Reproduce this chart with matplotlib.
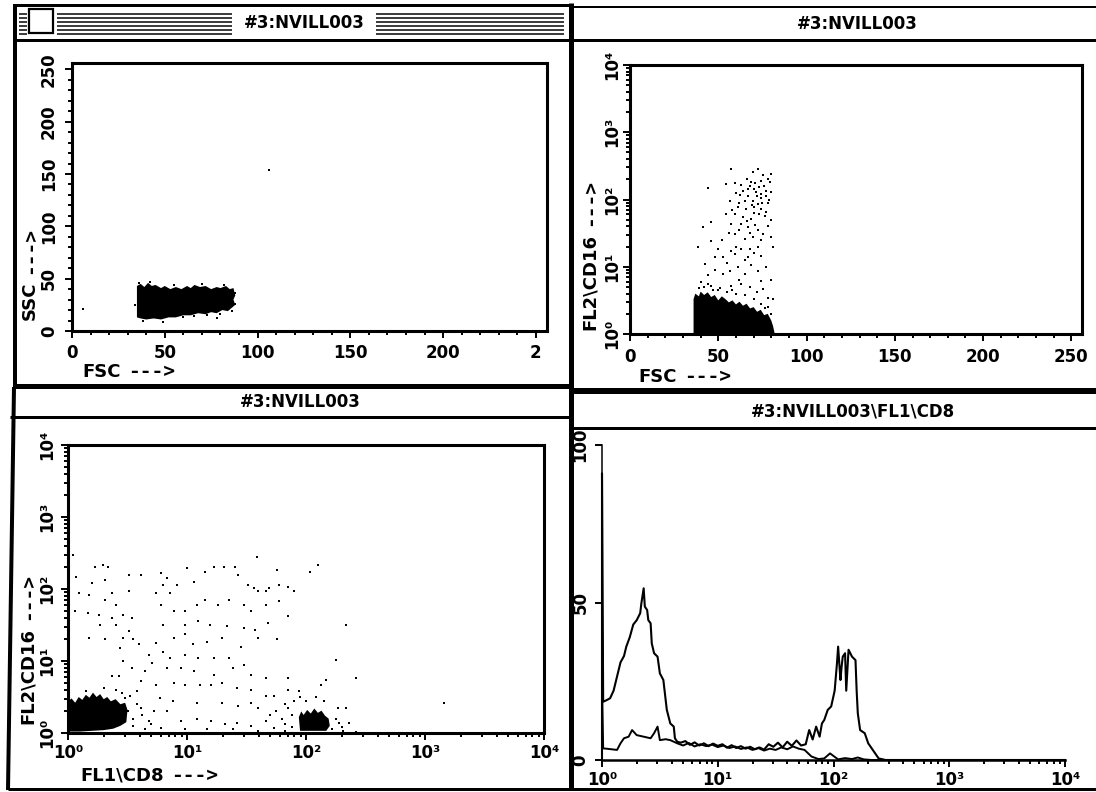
import numpy as np
import matplotlib
matplotlib.use('Agg')
import matplotlib.pyplot as plt
from matplotlib.patches import Rectangle
from matplotlib.ticker import FixedLocator, FixedFormatter, MultipleLocator, LogLocator, NullFormatter

plt.rcParams['font.family'] = ['DejaVu Sans']
plt.rcParams['font.weight'] = 'bold'
plt.rcParams['font.size'] = 12

W, H = 1096, 792

# ---------------- FSC / SSC ----------------
# dense lymphocyte gate outline (FSC, SSC)
gate_fsc = [35, 35, 37, 39, 41, 43, 45, 48, 50, 53, 56, 59, 62, 64, 66, 69, 72, 75, 78, 80,
            83, 85, 87, 88, 87, 88, 86, 84, 81, 78, 75, 72, 68, 64, 60, 56, 52, 48, 44, 40, 37]
gate_ssc = [13, 43, 45, 42, 46, 43, 44, 41, 43, 40, 42, 40, 43, 41, 44, 42, 43, 40, 42, 41,
            43, 40, 41, 34, 30, 25, 22, 19, 20, 17, 18, 16, 17, 15, 15, 13, 13, 11, 12, 11, 12]
# loose events around it
loose_fsc = [36, 42, 55, 70, 82, 88, 88, 86, 80, 73, 66, 60, 49, 38, 34, 78, 6, 106]
loose_ssc = [46, 47, 44, 45, 44, 36, 26, 19, 16, 15, 14, 13, 9, 10, 25, 12, 21, 154]

# ---------------- FSC / FL2 (log decades) ----------------
fsc_core = [36, 36, 37, 39, 40, 42, 44, 46, 48, 50, 52, 54, 56, 58, 60, 62, 64, 66, 68, 70,
            72, 74, 76, 78, 80, 81, 82]
fl2_core = [0.0, 0.52, 0.60, 0.56, 0.63, 0.58, 0.62, 0.55, 0.58, 0.50, 0.56, 0.52, 0.47, 0.50,
            0.44, 0.48, 0.42, 0.45, 0.38, 0.40, 0.33, 0.36, 0.28, 0.30, 0.20, 0.12, 0.0]
fsc_nk = [57.0, 69.7, 72.5, 75.4, 80.1, 44.1, 54.5, 59.3, 63.1, 68.8,
          74.4, 79.2, 66.9, 71.6, 74.4, 77.3, 80.1, 62.1, 56.4, 65.0,
          69.7, 72.5, 78.2, 61.2, 65.9, 70.3, 74.4, 54.5, 59.3, 64.0,
          68.8, 76.3, 80.1, 57.4, 63.1, 66.9, 72.5, 41.3, 46.0, 59.3,
          65.0, 69.7, 75.4, 80.1, 38.5, 46.0, 49.7, 57.4, 63.1, 67.8,
          72.5, 81.0, 52.6, 59.3, 66.9, 74.4, 42.2, 47.9, 56.4, 61.2,
          68.8, 77.3, 44.1, 52.6, 65.0, 72.5, 74.4, 40.3, 50.7, 57.4,
          63.1, 75.4, 78.2, 81.0, 76.3,
          66, 68, 70, 71, 73, 74, 76, 77, 78, 79,
          72, 69, 67, 75, 77, 73, 70, 62, 64, 60,
          58, 66, 71, 78, 62, 68, 74, 56, 52, 60,
          70, 65, 55, 48, 62, 68, 72, 58, 46, 80,
          39, 44, 50, 55, 60, 65, 70, 74, 78, 80, 42, 47]
fl2_nk = [2.46, 2.41, 2.46, 2.36, 2.38, 2.17, 2.23, 2.24, 2.22, 2.26,
          2.28, 2.26, 2.16, 2.11, 2.08, 2.13, 2.11, 2.06, 1.98, 1.98,
          1.98, 1.94, 1.95, 1.89, 1.86, 1.89, 1.86, 1.79, 1.79, 1.74,
          1.71, 1.76, 1.69, 1.64, 1.64, 1.59, 1.54, 1.59, 1.66, 1.49,
          1.42, 1.44, 1.49, 1.44, 1.29, 1.39, 1.27, 1.24, 1.27, 1.27,
          1.29, 1.29, 1.14, 1.19, 1.14, 1.16, 1.04, 1.14, 0.94, 0.99,
          1.02, 0.99, 0.87, 0.89, 0.89, 0.94, 0.79, 0.77, 0.69, 0.72,
          0.74, 0.67, 0.54, 0.52, 0.39,
          2.30, 2.20, 2.15, 2.25, 2.18, 2.02, 2.20, 2.05, 2.30, 2.00,
          2.05, 1.92, 2.05, 1.95, 1.82, 1.78, 1.80, 1.95, 2.12, 2.10,
          1.85, 1.68, 1.62, 1.60, 1.55, 1.50, 1.40, 1.50, 1.40, 1.30,
          1.20, 1.10, 1.05, 0.95, 0.80, 0.70, 0.62, 0.65, 0.72, 0.80,
          0.68, 0.75, 0.66, 0.62, 0.60, 0.58, 0.52, 0.45, 0.40, 0.30, 0.70, 0.65]

# ---------------- FL1 / FL2 (log decades) ----------------
neg_fl1 = [0.0, 0.0, 0.03, 0.06, 0.09, 0.12, 0.15, 0.18, 0.21, 0.24, 0.27, 0.30,
           0.33, 0.36, 0.40, 0.44, 0.48, 0.50, 0.49, 0.44, 0.38, 0.30, 0.20, 0.10]
neg_fl2 = [0.02, 0.44, 0.48, 0.42, 0.50, 0.46, 0.53, 0.49, 0.56, 0.50, 0.54, 0.47,
           0.50, 0.44, 0.47, 0.40, 0.42, 0.32, 0.15, 0.10, 0.06, 0.04, 0.03, 0.02]
pos_fl1 = [1.95, 1.94, 1.96, 1.98, 2.01, 2.04, 2.07, 2.10, 2.13, 2.16, 2.19, 2.20, 2.17, 2.08]
pos_fl2 = [0.03, 0.22, 0.30, 0.25, 0.32, 0.27, 0.34, 0.28, 0.31, 0.24, 0.20, 0.10, 0.03, 0.03]
ev_fl1 = [0.04, 0.23, 0.29, 0.34, 0.07, 0.20, 0.31, 0.09, 0.18, 0.37,
          0.51, 0.31, 0.40, 0.06, 0.17, 0.26, 0.37, 0.46, 0.54, 0.27,
          0.40, 0.51, 0.18, 0.31, 0.46, 0.55, 0.44, 0.60, 0.68, 0.74,
          0.51, 0.61, 0.78, 0.83, 0.80, 0.74, 0.86, 0.92, 1.00, 1.06,
          1.15, 1.23, 1.31, 1.40, 1.43, 1.51, 1.56, 1.60, 1.66, 1.69,
          1.77, 1.85, 1.90, 1.59, 1.76, 2.03, 2.10, 0.78, 0.89, 0.98,
          1.08, 1.15, 1.26, 1.35, 1.48, 1.54, 1.66, 1.77, 1.85, 0.80,
          0.98, 1.09, 1.19, 1.34, 1.48, 1.57, 1.68, 1.76, 2.34, 0.89,
          0.98, 1.05, 1.17, 1.29, 1.45, 1.60, 0.80, 0.86, 0.98, 1.09,
          1.23, 1.35, 1.48, 0.46, 0.54, 0.65, 0.71, 0.83, 0.95, 1.06,
          1.23, 1.39, 1.54, 1.66, 1.85, 2.25, 2.42, 2.17, 0.37, 0.43,
          0.61, 0.74, 0.89, 0.98, 1.11, 1.20, 1.29, 1.42, 1.54, 1.66,
          1.73, 1.85, 1.94, 2.13, 0.77, 0.88, 1.08, 1.29, 1.43, 1.54,
          1.60, 1.82, 2.34, 3.16, 0.83, 0.95, 1.08, 1.20, 1.32, 1.42,
          1.54, 1.66, 1.73, 1.82, 2.28, 2.36, 0.78, 0.98, 1.17, 1.39,
          1.60, 1.82, 2.31, 2.42, 0.61, 0.68, 0.55, 0.52, 0.58,
          0.50, 0.55, 0.62, 0.65, 0.70, 0.72, 0.45, 0.40, 0.30, 0.15, 0.58, 0.48,
          1.88, 1.90, 1.95, 2.00, 2.08, 2.15, 2.25, 2.27, 1.80, 1.85,
          1.75, 1.70, 2.30, 2.22, 1.88]
ev_fl2 = [2.47, 2.31, 2.33, 2.31, 2.17, 2.08, 2.13, 1.94, 1.92, 1.94,
          1.97, 1.85, 1.78, 1.69, 1.67, 1.64, 1.60, 1.64, 1.60, 1.50,
          1.50, 1.41, 1.32, 1.30, 1.32, 1.30, 1.18, 1.23, 1.09, 1.25,
          2.20, 2.20, 2.22, 2.15, 2.06, 1.94, 1.94, 2.06, 2.29, 2.10,
          2.24, 2.31, 2.31, 2.31, 2.20, 2.06, 2.01, 1.97, 1.97, 2.01,
          2.06, 2.03, 1.97, 2.45, 2.27, 2.24, 2.33, 1.78, 1.69, 1.69,
          1.78, 1.85, 1.78, 1.85, 1.78, 1.69, 1.78, 1.83, 1.62, 1.50,
          1.50, 1.55, 1.50, 1.48, 1.46, 1.43, 1.53, 1.30, 1.50, 1.32,
          1.37, 1.23, 1.27, 1.32, 1.20, 1.32, 1.13, 1.04, 1.09, 1.04,
          1.04, 1.04, 0.95, 1.00, 0.90, 0.86, 0.97, 0.90, 0.90, 0.86,
          0.81, 0.90, 0.81, 0.77, 0.77, 1.02, 0.77, 0.74, 0.79, 0.79,
          0.72, 0.67, 0.70, 0.67, 0.67, 0.67, 0.70, 0.63, 0.60, 0.51,
          0.51, 0.60, 0.58, 0.67, 0.49, 0.44, 0.42, 0.42, 0.37, 0.42,
          0.35, 0.40, 0.35, 0.42, 0.30, 0.17, 0.19, 0.17, 0.12, 0.14,
          0.10, 0.17, 0.07, 0.12, 0.14, 0.14, 0.07, 0.05, 0.05, 0.05,
          0.03, 0.03, 0.03, 0.01, 0.35, 0.17, 0.19, 0.51, 0.58,
          0.30, 0.10, 0.25, 0.05, 0.12, 0.30, 0.55, 0.60, 0.62, 0.58, 0.40, 0.48,
          0.25, 0.45, 0.50, 0.45, 0.50, 0.45, 0.20, 0.35, 0.20, 0.35,
          0.30, 0.25, 0.08, 0.05, 0.08]

# ---------------- FL1\CD8 histograms (log decades, counts) ----------------
cd8_log = [0.00, 0.00, 0.01, 0.04, 0.07, 0.10, 0.13, 0.16, 0.19, 0.21,
           0.24, 0.27, 0.30, 0.33, 0.34, 0.36, 0.37, 0.39, 0.40, 0.42,
           0.43, 0.45, 0.48, 0.50, 0.53, 0.56, 0.59, 0.62, 0.63, 0.65,
           0.68, 0.72, 0.76, 0.80, 0.84, 0.88, 0.92, 0.96, 1.00, 1.04,
           1.08, 1.12, 1.16, 1.20, 1.24, 1.28, 1.32, 1.36, 1.40, 1.44,
           1.48, 1.52, 1.56, 1.60, 1.64, 1.68, 1.72, 1.76, 1.79, 1.82,
           1.85, 1.88, 1.90, 1.92, 1.95, 1.98, 2.01, 2.03, 2.04, 2.06,
           2.07, 2.08, 2.10, 2.11, 2.13, 2.16, 2.19, 2.20, 2.21, 2.23,
           2.27, 2.30, 2.33, 2.36, 2.39, 2.45, 4.00]
cd8_count = [0, 91, 18.5, 19.0, 19.6, 22, 26.5, 31, 33, 36,
             39, 43, 44.4, 46.6, 49.7, 54.5, 48.7, 47.6, 44.4, 43.4,
             37, 33.9, 32.8, 27.5, 25.4, 15.9, 11.6, 10.6, 6.9, 5.8,
             5.5, 6.0, 4.8, 5.6, 4.6, 5.3, 4.4, 5.2, 4.5, 5.0,
             3.9, 4.7, 3.8, 4.4, 3.6, 4.2, 3.4, 4.0, 3.3, 5.0,
             4.2, 5.5, 4.0, 5.8, 4.5, 6.2, 4.6, 5.0, 9.5, 6.5,
             10.6, 7.4, 11.6, 12.7, 15.9, 17, 22, 30.7, 36, 25.4,
             29.6, 32.8, 33.9, 22, 35, 32.8, 31.7, 22, 14.8, 9.5,
             8.5, 5.3, 3.7, 2.1, 0.5, 0, 0]
ctrl_log = [0.00, 0.00, 0.01, 0.06, 0.13, 0.16, 0.19, 0.23, 0.26, 0.30,
            0.36, 0.42, 0.45, 0.48, 0.50, 0.55, 0.59, 0.65, 0.70, 0.75,
            0.80, 0.85, 0.90, 0.95, 1.00, 1.05, 1.10, 1.15, 1.20, 1.25,
            1.30, 1.35, 1.40, 1.45, 1.50, 1.55, 1.60, 1.65, 1.70, 1.75,
            1.81, 1.87, 1.92, 1.97, 2.01, 2.04, 2.10, 2.16, 2.21, 2.26,
            2.33, 4.00]
ctrl_count = [0, 25, 3.7, 3.5, 3.2, 5.3, 6.9, 7.4, 9.5, 7.9,
              7.4, 6.9, 8.5, 10.6, 6.3, 6.6, 6.3, 5.3, 4.6, 5.4,
              4.3, 5.0, 4.4, 4.9, 4.1, 4.6, 3.8, 4.3, 3.5, 4.0,
              3.2, 3.8, 3.0, 3.6, 3.2, 4.0, 3.4, 4.3, 3.6, 3.2,
              1.1, 0.3, 0.5, 2.1, 1.0, 0.2, 0.6, 0.3, 0.8, 0.2,
              0, 0]

lin_ticks = [0, 50, 100, 150, 200, 250]
dec_ticks = [1, 10, 100, 1000, 10000]
dec_labels = ['10\u2070', '10\u00b9', '10\u00b2', '10\u00b3', '10\u2074']


def box(left, top, right, bottom):
    return [left / W, 1 - bottom / H, (right - left) / W, (bottom - top) / H]


def dots(ax, x, y):
    ax.scatter(x, y, s=4.5, marker='s', c='black', linewidths=0)


def style(ax, xpad, ypad, spine_lw=2.2):
    for s in ax.spines.values():
        s.set_linewidth(spine_lw)
    ax.tick_params(which='both', direction='out', width=1.4, colors='black')
    ax.tick_params(which='major', length=5)
    ax.tick_params(which='minor', length=3)
    ax.tick_params(axis='x', which='major', pad=xpad)
    ax.tick_params(axis='y', which='major', pad=ypad)


def lin_axis(axis, labels):
    axis.set_major_locator(FixedLocator(lin_ticks))
    axis.set_major_formatter(FixedFormatter(labels))
    axis.set_minor_locator(MultipleLocator(10))


def log_axis(axis):
    axis.set_major_locator(FixedLocator(dec_ticks))
    axis.set_major_formatter(FixedFormatter(dec_labels))
    axis.set_minor_locator(LogLocator(base=10, subs=np.arange(2, 10)))
    axis.set_minor_formatter(NullFormatter())


def rotate_y(ax):
    plt.setp(ax.get_yticklabels(), rotation=90, va='center')


fig = plt.figure(figsize=(W / 100, H / 100), dpi=100)

# FSC vs SSC
axA = fig.add_axes(box(72, 63, 547, 331))
axA.set_xlim(0, 256)
axA.set_ylim(0, 256)
axA.fill(gate_fsc, gate_ssc, color='black', lw=0)
dots(axA, loose_fsc, loose_ssc)
lin_axis(axA.xaxis, ['0', '50', '100', '150', '200', '2'])
lin_axis(axA.yaxis, ['0', '50', '100', '150', '200', '250'])
style(axA, 4, 5)
rotate_y(axA)

# FSC vs FL2\CD16
axB = fig.add_axes(box(630, 65, 1082, 334))
axB.set_yscale('log')
axB.set_xlim(0, 256)
axB.set_ylim(1, 1e4)
axB.fill(fsc_core, np.power(10.0, fl2_core), color='black', lw=0)
dots(axB, fsc_nk, np.power(10.0, fl2_nk))
lin_axis(axB.xaxis, ['0', '50', '100', '150', '200', '250'])
log_axis(axB.yaxis)
style(axB, 5, 1.5)
rotate_y(axB)

# FL1\CD8 vs FL2\CD16
axC = fig.add_axes(box(68, 445, 544, 733))
axC.set_xscale('log')
axC.set_yscale('log')
axC.set_xlim(1, 1e4)
axC.set_ylim(1, 1e4)
axC.fill(np.power(10.0, neg_fl1), np.power(10.0, neg_fl2), color='black', lw=0)
axC.fill(np.power(10.0, pos_fl1), np.power(10.0, pos_fl2), color='black', lw=0)
dots(axC, np.power(10.0, ev_fl1), np.power(10.0, ev_fl2))
log_axis(axC.xaxis)
log_axis(axC.yaxis)
style(axC, 3, 3.5)
rotate_y(axC)

# FL1\CD8 histogram overlay
axD = fig.add_axes(box(602, 445, 1065, 760))
axD.set_xscale('log')
axD.set_xlim(1, 1e4)
axD.set_ylim(0, 100)
axD.plot(np.power(10.0, ctrl_log), ctrl_count, color='black', lw=1.4, clip_on=False, zorder=3)
axD.plot(np.power(10.0, cd8_log), cd8_count, color='black', lw=1.5, clip_on=False, zorder=3)
axD.spines['top'].set_visible(False)
axD.spines['right'].set_visible(False)
log_axis(axD.xaxis)
axD.yaxis.set_major_locator(FixedLocator([0, 50, 100]))
axD.yaxis.set_major_formatter(FixedFormatter(['0', '50', '100']))
style(axD, 3, 4, spine_lw=1.1)
axD.spines['bottom'].set_linewidth(1.8)
rotate_y(axD)

# window frames drawn in pixel coordinates on top
chrome = fig.add_axes([0, 0, 1, 1], zorder=10)
chrome.set_xlim(0, W)
chrome.set_ylim(H, 0)
chrome.axis('off')
chrome.patch.set_alpha(0)


def rule(x0, y0, x1, y1, px):
    chrome.plot([x0, x1], [y0, y1], color='black', lw=px * 0.72, solid_capstyle='butt')


# top-left (active) window
rule(14, 5, 571, 5, 3)
rule(15, 4, 15, 388, 4)
rule(14, 40, 571, 40, 3)
rule(14, 386, 571, 386, 5)
for y in [14, 18, 22, 26, 30, 34]:
    rule(19, y, 27, y, 1.5)
    rule(57, y, 232, y, 1.5)
    rule(376, y, 564, y, 1.5)
chrome.add_patch(Rectangle((29, 9), 24, 24, facecolor='white', edgecolor='black', lw=1.6))
chrome.text(304, 23, '#3:NVILL003', ha='center', va='center')

# top-right window
rule(571, 7, W, 7, 2)
rule(571, 40, W, 40, 3)
rule(571, 391, W, 391, 6)
chrome.text(857, 24, '#3:NVILL003', ha='center', va='center')

# bottom windows
rule(571, 3, 571, 790, 5)
rule(10, 417, 571, 417, 3)
rule(14, 387, 8, 790, 4)
rule(571, 428, W, 428, 3)
rule(8, 789, W, 789, 3)
chrome.text(300, 402, '#3:NVILL003', ha='center', va='center')
chrome.text(853, 411, '#3:NVILL003\\FL1\\CD8', ha='center', va='center')

# axis captions: channel name followed by a monospaced arrow
renderer = fig.canvas.get_renderer()


def caption(x, y, name, vertical=False):
    if vertical:
        t = chrome.text(x, y, name, rotation=90, ha='center', va='bottom', fontsize=13)
        h = t.get_window_extent(renderer).height
        chrome.text(x, y - h - 8, '--->', rotation=90, ha='center', va='bottom',
                    family='DejaVu Sans Mono', fontsize=14)
    else:
        t = chrome.text(x, y, name, ha='left', va='center', fontsize=13)
        w = t.get_window_extent(renderer).width
        chrome.text(x + w + 8, y, '--->', ha='left', va='center',
                    family='DejaVu Sans Mono', fontsize=14)


caption(82, 372, 'FSC')
caption(30, 320, 'SSC', vertical=True)
caption(638, 377, 'FSC')
caption(590, 330, 'FL2\\CD16', vertical=True)
caption(80, 776, 'FL1\\CD8')
caption(28, 724, 'FL2\\CD16', vertical=True)

fig.savefig('out.png', dpi=100)
